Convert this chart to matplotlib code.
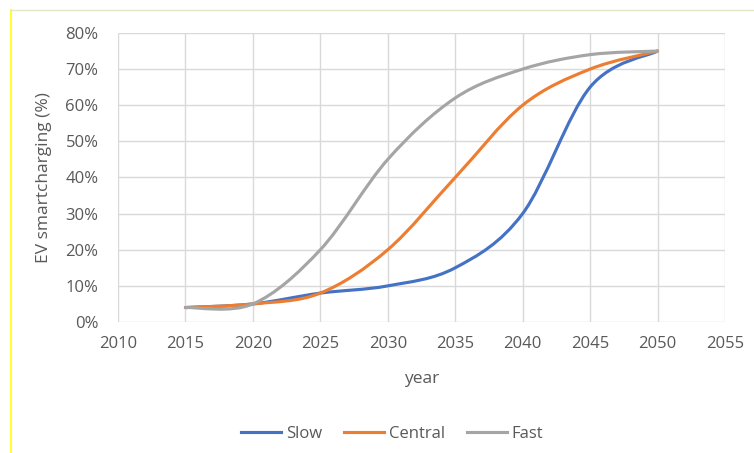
import numpy as np
import matplotlib.pyplot as plt
from matplotlib.path import Path
from matplotlib.patches import PathPatch
from matplotlib.lines import Line2D
from matplotlib.ticker import PercentFormatter

plt.rcParams['font.family'] = ['Open Sans', 'DejaVu Sans']

years = [2015, 2020, 2025, 2030, 2035, 2040, 2045, 2050]
slow = [0.04, 0.05, 0.08, 0.10, 0.15, 0.30, 0.65, 0.75]
central = [0.04, 0.05, 0.08, 0.20, 0.40, 0.60, 0.70, 0.75]
fast = [0.04, 0.05, 0.20, 0.45, 0.62, 0.70, 0.74, 0.75]

series = [("Slow", slow, "#4472C4"),
          ("Central", central, "#ED7D31"),
          ("Fast", fast, "#A5A5A5")]


def smooth_path(x, y):
    # cubic bezier through each point, Catmull-Rom style tangents
    pts = np.column_stack([x, y]).astype(float)
    n = len(pts)
    verts = [pts[0]]
    codes = [Path.MOVETO]
    for i in range(n - 1):
        p0 = pts[max(i - 1, 0)]
        p1 = pts[i]
        p2 = pts[i + 1]
        p3 = pts[min(i + 2, n - 1)]
        c1 = p1 + (p2 - p0) / 6.0
        c2 = p2 - (p3 - p1) / 6.0
        verts += [c1, c2, p2]
        codes += [Path.CURVE4] * 3
    return Path(verts, codes)


fig = plt.figure(figsize=(7.54, 4.53), dpi=100)
ax = fig.add_axes([0.1565, 0.2892, 0.805, 0.638])

for name, vals, col in series:
    patch = PathPatch(smooth_path(years, vals), facecolor='none', edgecolor=col,
                      lw=2.25, capstyle='round', joinstyle='round', zorder=3)
    ax.add_patch(patch)

ax.set_xlim(2010, 2055)
ax.set_ylim(0, 0.8)
ax.set_xticks(range(2010, 2056, 5))
ax.set_yticks(np.arange(0, 0.81, 0.1))
ax.yaxis.set_major_formatter(PercentFormatter(1.0, decimals=0))
ax.grid(True, color='#D9D9D9', lw=1.0)
ax.set_axisbelow(True)
for s in ax.spines.values():
    s.set_visible(False)
ax.tick_params(length=0, labelsize=12, labelcolor='#595959')
ax.tick_params(axis='y', pad=14)
ax.tick_params(axis='x', pad=10)

ax.set_ylabel("EV smartcharging (%)", fontsize=12.5, color='#595959', labelpad=10)
ax.set_xlabel("year", fontsize=12.5, color='#595959', labelpad=14)

handles = [Line2D([], [], color=c, lw=2.25) for _, _, c in series]
fig.legend(handles, [n for n, _, _ in series], loc='center', bbox_to_anchor=(0.52, 0.042),
           ncol=3, frameon=False, fontsize=12, labelcolor='#595959',
           handlelength=2.4, handletextpad=0.3, columnspacing=1.3)

# frame edges of the chart area
fig.add_artist(Line2D([0.0146, 0.0146], [0.0, 0.978], color='#FFFF33', lw=1.5))
fig.add_artist(Line2D([0.0146, 1.0], [0.978, 0.978], color='#E4E6C8', lw=1.0))

fig.savefig("out.png", dpi=100)
